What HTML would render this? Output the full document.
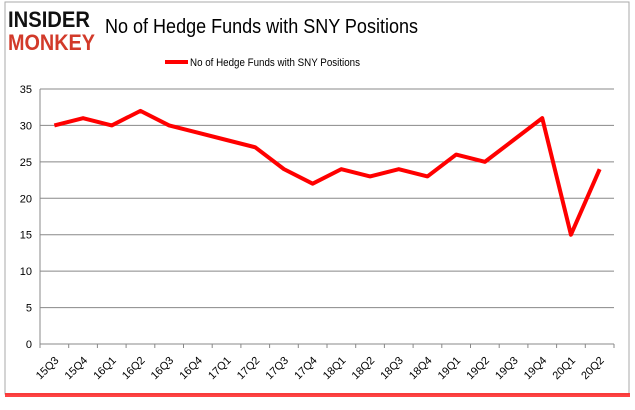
<!DOCTYPE html>
<html><head><meta charset="utf-8"><style>
body{margin:0;background:#fff;width:635px;height:405px;overflow:hidden;font-family:"Liberation Sans",sans-serif}
</style></head><body>
<svg width="635" height="405">
<rect x="5" y="2" width="624" height="392" fill="#fff" stroke="#aaa" stroke-width="1"/>
<rect x="5" y="393" width="625" height="4" fill="#f22" opacity="0.85"/>
<g>
<text x="8" y="27" font-size="22" font-weight="bold" fill="#111" textLength="82" lengthAdjust="spacingAndGlyphs">INSIDER</text>
<text x="8" y="50" font-size="22" font-weight="bold" fill="#d23a2a" textLength="87" lengthAdjust="spacingAndGlyphs">MONKEY</text>
</g>
<text x="105" y="33" font-size="20" fill="#000" textLength="313" lengthAdjust="spacingAndGlyphs">No of Hedge Funds with SNY Positions</text>
<g>
<line x1="165" y1="62" x2="188" y2="62" stroke="red" stroke-width="4"/>
<text x="190" y="66" font-size="11" fill="#000" textLength="170" lengthAdjust="spacingAndGlyphs">No of Hedge Funds with SNY Positions</text>
</g>
<g id="plot"></g>
</svg>
<script>
const categories=["15Q3","15Q4","16Q1","16Q2","16Q3","16Q4","17Q1","17Q2","17Q3","17Q4","18Q1","18Q2","18Q3","18Q4","19Q1","19Q2","19Q3","19Q4","20Q1","20Q2"];
const values=[30,31,30,32,30,29,28,27,24,22,24,23,24,23,26,25,28,31,15,24];
const yTicks=[0,5,10,15,20,25,30,35];
const L=40,R=614,T=89,B=344,ymax=35;
const ns="http://www.w3.org/2000/svg";
const g=document.getElementById('plot');
const cw=(R-L)/categories.length;
const x=i=>L+cw*(i+0.5);
const y=v=>B-(v/ymax)*(B-T);
function mk(t,a){const e=document.createElementNS(ns,t);for(const k in a)e.setAttribute(k,a[k]);g.appendChild(e);return e;}
yTicks.forEach(v=>{
 if(v>0){const l=mk('line',{x1:L,x2:R,y1:y(v),y2:y(v),stroke:'#888','stroke-width':1});
 
 }
 const t=mk('text',{x:L-8,y:y(v)+4,'text-anchor':'end','font-size':11,fill:'#000'});t.textContent=v;
 
 
});
const ax=mk('line',{x1:L,x2:R,y1:B,y2:B,stroke:'#888'});


const ay=mk('line',{x1:L,x2:L,y1:T,y2:B,stroke:'#888'});


for(let i=0;i<=categories.length;i++){const tk=mk('line',{x1:L+cw*i,x2:L+cw*i,y1:B,y2:B+4,stroke:'#888'});
 
 }
categories.forEach((c,i)=>{
 const t=mk('text',{x:x(i)+5,y:B+17,'text-anchor':'end','font-size':11,fill:'#000',transform:`rotate(-45 ${x(i)+5} ${B+17})`});
 t.textContent=c;
 
 
});
const p=mk('polyline',{points:values.map((v,i)=>x(i)+','+y(v)).join(' '),fill:'none',stroke:'red','stroke-width':4,'stroke-linejoin':'round'});


</script>
</body></html>
